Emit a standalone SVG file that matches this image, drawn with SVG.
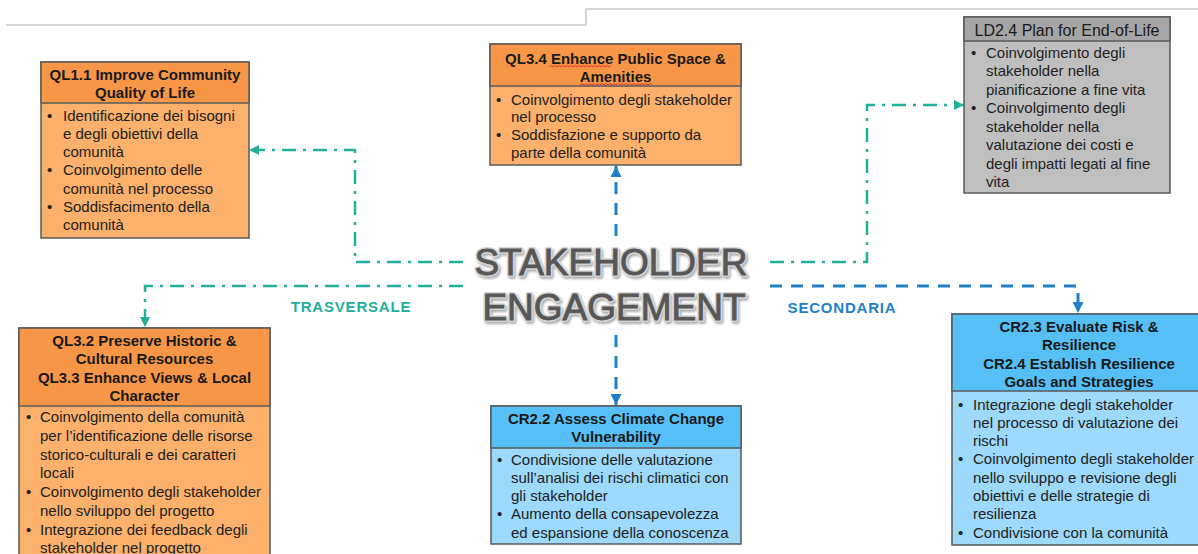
<svg xmlns="http://www.w3.org/2000/svg" width="1198" height="554" viewBox="0 0 1198 554">
<defs>
<style>
.box{stroke:#5a5a5a;stroke-width:1.5}
.oh{fill:#F79646}.ob{fill:#FBB06B}
.bh{fill:#55BFF6}.bb{fill:#9CD9FA}
.gh{fill:#A5A5A5}.gb{fill:#BFBFBF}
.h{font-family:"Liberation Sans",Arial,sans-serif;font-size:15px;font-weight:bold;fill:#1a1a1a;text-anchor:middle}
.hr{font-family:"Liberation Sans",Arial,sans-serif;font-size:16px;fill:#1a1a1a;text-anchor:middle}
.b{font-family:"Liberation Sans",Arial,sans-serif;font-size:15px;fill:#222}
.teal{fill:none;stroke:#22B09C;stroke-width:2.5;stroke-dasharray:14 7 3 7}
.blue{fill:none;stroke:#1E80C8;stroke-width:3;stroke-dasharray:12 9}
.lbl{font-family:"Liberation Sans",Arial,sans-serif;font-size:15px;font-weight:bold;letter-spacing:0.8px;text-anchor:middle}
.big{font-family:"Liberation Sans",Arial,sans-serif;font-size:37px;text-anchor:middle}
.bigo{fill:#d6d6d6;stroke:#d6d6d6;stroke-width:4;stroke-linejoin:round}
.bigf{fill:#575757;stroke:#575757;stroke-width:0.9}
</style>
<marker id="at" viewBox="0 0 10 10" refX="10" refY="5" markerWidth="10" markerHeight="10" markerUnits="userSpaceOnUse" orient="auto"><path d="M0,0 L10,5 L0,10 z" fill="#22B09C"/></marker>
<marker id="ab" viewBox="0 0 10 10" refX="10" refY="5" markerWidth="11" markerHeight="11" markerUnits="userSpaceOnUse" orient="auto"><path d="M0,0 L10,5 L0,10 z" fill="#1E80C8"/></marker>
<filter id="sh" x="-10%" y="-20%" width="120%" height="150%"><feDropShadow dx="1.5" dy="2" stdDeviation="1.2" flood-color="#777" flood-opacity="0.6"/></filter>
</defs>
<rect width="1198" height="554" fill="#fff"/>
<path d="M6,25 H586 V9 H1198" fill="none" stroke="#c8c8c8" stroke-width="1.5"/>

<g id="connectors">
<path class="teal" d="M463,262 H355 V150 H249" marker-end="url(#at)"/>
<path class="teal" d="M463,286 H145 V327" marker-end="url(#at)"/>
<path class="teal" d="M770,262 H867 V105 H964" marker-end="url(#at)"/>
<path class="blue" d="M616,236 V166" marker-end="url(#ab)"/>
<path class="blue" d="M616,335 V405" marker-end="url(#ab)"/>
<path class="blue" d="M770,286 H1078 V313" marker-end="url(#ab)"/>
<text class="lbl" x="351" y="312" fill="#22B09C">TRASVERSALE</text>
<text class="lbl" x="842" y="313" fill="#1E80C8">SECONDARIA</text>
</g>

<g id="center">
<g filter="url(#sh)">
<text class="big bigo" x="611" y="275">STAKEHOLDER</text>
<text class="big bigo" x="614" y="320">ENGAGEMENT</text>
</g>
<text class="big bigf" x="611" y="275">STAKEHOLDER</text>
<text class="big bigf" x="614" y="320">ENGAGEMENT</text>
</g>

<g id="ql11">
<rect class="box ob" x="41" y="62" width="208" height="176"/>
<rect class="box oh" x="41" y="62" width="208" height="41"/>
<text class="h"><tspan x="145" y="80">QL1.1 Improve Community</tspan><tspan x="145" y="98">Quality of Life</tspan></text>
<text class="b"><tspan x="47" y="120.5">•</tspan><tspan x="63" y="120.5">Identificazione dei bisogni</tspan><tspan x="63" y="138.8">e degli obiettivi della</tspan><tspan x="63" y="157.1">comunità</tspan><tspan x="47" y="175.4">•</tspan><tspan x="63" y="175.4">Coinvolgimento delle</tspan><tspan x="63" y="193.7">comunità nel processo</tspan><tspan x="47" y="212">•</tspan><tspan x="63" y="212">Soddisfacimento della</tspan><tspan x="63" y="230.3">comunità</tspan></text>
</g>

<g id="ql34">
<rect class="box ob" x="490" y="44" width="251" height="121"/>
<rect class="box oh" x="490" y="44" width="251" height="42"/>
<text class="h"><tspan x="615.5" y="63.5">QL3.4 Enhance Public Space &amp;</tspan><tspan x="615.5" y="81.5">Amenities</tspan></text>
<path d="M549,67 l2,-1.5 2,1.5 2,-1.5 2,1.5 2,-1.5 2,1.5 2,-1.5 2,1.5 2,-1.5 2,1.5 2,-1.5 2,1.5 2,-1.5 2,1.5 2,-1.5 2,1.5 2,-1.5 2,1.5 2,-1.5 2,1.5 2,-1.5 2,1.5 2,-1.5 2,1.5 2,-1.5 2,1.5 2,-1.5 2,1.5 2,-1.5 2,1.5 2,-1.5" fill="none" stroke="#e03030" stroke-width="0.9"/>
<path d="M580,85 l2,-1.5 2,1.5 2,-1.5 2,1.5 2,-1.5 2,1.5 2,-1.5 2,1.5 2,-1.5 2,1.5 2,-1.5 2,1.5 2,-1.5 2,1.5 2,-1.5 2,1.5 2,-1.5 2,1.5 2,-1.5 2,1.5 2,-1.5 2,1.5 2,-1.5 2,1.5 2,-1.5 2,1.5 2,-1.5 2,1.5 2,-1.5 2,1.5 2,-1.5 2,1.5 2,-1.5 2,1.5 2,-1.5 2,1.5" fill="none" stroke="#e03030" stroke-width="0.9"/>
<text class="b"><tspan x="496" y="104.5">•</tspan><tspan x="511" y="104.5">Coinvolgimento degli stakeholder</tspan><tspan x="511" y="122.3">nel processo</tspan><tspan x="496" y="140.1">•</tspan><tspan x="511" y="140.1">Soddisfazione e supporto da</tspan><tspan x="511" y="157.9">parte della comunità</tspan></text>
</g>

<g id="ld24">
<rect class="box gb" x="964" y="17" width="206" height="176"/>
<rect class="box gh" x="964" y="17" width="206" height="24"/>
<text class="hr"><tspan x="1067" y="35.5">LD2.4 Plan for End-of-Life</tspan></text>
<text class="b"><tspan x="971" y="57.5">•</tspan><tspan x="986" y="57.5">Coinvolgimento degli</tspan><tspan x="986" y="76">stakeholder nella</tspan><tspan x="986" y="94.5">pianificazione a fine vita</tspan><tspan x="971" y="113">•</tspan><tspan x="986" y="113">Coinvolgimento degli</tspan><tspan x="986" y="131.5">stakeholder nella</tspan><tspan x="986" y="150">valutazione dei costi e</tspan><tspan x="986" y="168.5">degli impatti legati al fine</tspan><tspan x="986" y="187">vita</tspan></text>
</g>

<g id="ql32">
<rect class="box ob" x="19" y="328" width="251" height="240"/>
<rect class="box oh" x="19" y="328" width="251" height="78"/>
<text class="h"><tspan x="144.5" y="345.5">QL3.2 Preserve Historic &amp;</tspan><tspan x="144.5" y="364">Cultural Resources</tspan><tspan x="144.5" y="382.5">QL3.3 Enhance Views &amp; Local</tspan><tspan x="144.5" y="401">Character</tspan></text>
<text class="b"><tspan x="26" y="422">•</tspan><tspan x="40" y="422">Coinvolgimento della comunità</tspan><tspan x="40" y="440.8">per l’identificazione delle risorse</tspan><tspan x="40" y="459.6">storico-culturali e dei caratteri</tspan><tspan x="40" y="478.4">locali</tspan><tspan x="26" y="497.2">•</tspan><tspan x="40" y="497.2">Coinvolgimento degli stakeholder</tspan><tspan x="40" y="516">nello sviluppo del progetto</tspan><tspan x="26" y="534.8">•</tspan><tspan x="40" y="534.8">Integrazione dei feedback degli</tspan><tspan x="40" y="553">stakeholder nel progetto</tspan></text>
</g>

<g id="cr22">
<rect class="box bb" x="491" y="406" width="250" height="138"/>
<rect class="box bh" x="491" y="406" width="250" height="42"/>
<text class="h"><tspan x="616" y="423.5">CR2.2 Assess Climate Change</tspan><tspan x="616" y="442">Vulnerability</tspan></text>
<text class="b"><tspan x="497" y="464.5">•</tspan><tspan x="511" y="464.5">Condivisione delle valutazione</tspan><tspan x="511" y="482.8">sull’analisi dei rischi climatici con</tspan><tspan x="511" y="501.1">gli stakeholder</tspan><tspan x="497" y="519.4">•</tspan><tspan x="511" y="519.4">Aumento della consapevolezza</tspan><tspan x="511" y="537.7">ed espansione della conoscenza</tspan></text>
</g>

<g id="cr23">
<rect class="box bb" x="952" y="314" width="254" height="231"/>
<rect class="box bh" x="952" y="314" width="254" height="77"/>
<text class="h"><tspan x="1079" y="331.5">CR2.3 Evaluate Risk &amp;</tspan><tspan x="1079" y="350">Resilience</tspan><tspan x="1079" y="368.5">CR2.4 Establish Resilience</tspan><tspan x="1079" y="387">Goals and Strategies</tspan></text>
<text class="b"><tspan x="958" y="409.5">•</tspan><tspan x="973" y="409.5">Integrazione degli stakeholder</tspan><tspan x="973" y="427.8">nel processo di valutazione dei</tspan><tspan x="973" y="446.1">rischi</tspan><tspan x="958" y="464.4">•</tspan><tspan x="973" y="464.4">Coinvolgimento degli stakeholder</tspan><tspan x="973" y="482.7">nello sviluppo e revisione degli</tspan><tspan x="973" y="501">obiettivi e delle strategie di</tspan><tspan x="973" y="519.3">resilienza</tspan><tspan x="958" y="537.6">•</tspan><tspan x="973" y="537.6">Condivisione con la comunità</tspan></text>
</g>
</svg>
